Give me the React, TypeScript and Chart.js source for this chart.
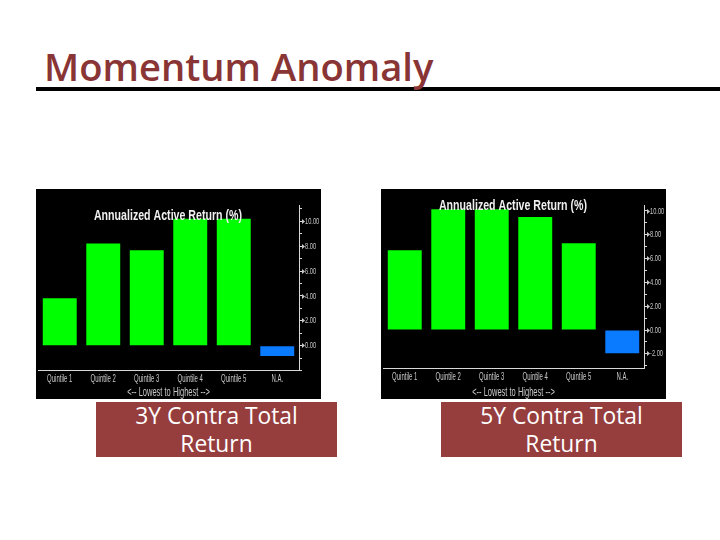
import * as React from 'react';
import Chart from 'chart.js/auto';

const categories = ['Quintile 1', 'Quintile 2', 'Quintile 3', 'Quintile 4', 'Quintile 5', 'N.A.'];
const contra3Y = [3.82, 8.2, 7.67, 10.2, 10.2, -0.83];
const contra5Y = [6.7, 10.14, 10.14, 9.5, 7.28, -1.96];
const barColors = ['#00ff00', '#00ff00', '#00ff00', '#00ff00', '#00ff00', '#0a7bff'];
const chartTitle = 'Annualized Active Return (%)';
const axisTitle = '<-- Lowest to Highest -->';
const sans = '"Liberation Sans", sans-serif';
const slideFont = '"Open Sans", sans-serif';

// the source chart uses a narrow font and none is installed, so squeeze all canvas text
const squeeze = 0.6;
const narrowText = {
  id: 'narrowText',
  beforeDraw: (c) => {
    const ctx = c.ctx;
    if (ctx.squeezed) return;
    ctx.squeezed = true;
    const fillText = ctx.fillText.bind(ctx);
    ctx.fillText = (text, x, y) => {
      ctx.save();
      ctx.translate(x, y);
      ctx.scale(squeeze, 1);
      fillText(text, 0, 0);
      ctx.restore();
    };
  },
};

function QuintileChart({
  values,
  min,
  max,
  lowestLabel,
  titleY,
  axisHeight,
}: {
  values: number[];
  min: number;
  max: number;
  lowestLabel: number;
  titleY: number;
  axisHeight: number;
}) {
  const ref = React.useRef<HTMLCanvasElement>(null);
  React.useEffect(() => {
    const chart = new Chart(ref.current, {
      type: 'bar',
      data: {
        labels: categories,
        datasets: [
          {
            data: values,
            backgroundColor: barColors,
            barPercentage: 0.78,
            categoryPercentage: 1,
          },
        ],
      },
      options: {
        responsive: false,
        animation: false,
        layout: { padding: { left: 2, top: 16, right: 0, bottom: 0 } },
        plugins: { legend: { display: false }, tooltip: { enabled: false } },
        scales: {
          x: {
            grid: { display: false, tickLength: 1 },
            border: { color: '#d8d8d8', width: 1 },
            ticks: { color: '#c8c8c8', font: { family: sans, size: 10 }, padding: 2, maxRotation: 0, autoSkip: false },
            title: {
              display: true,
              text: axisTitle,
              color: '#c8c8c8',
              font: { family: sans, size: 12.5 },
              padding: { top: 0, bottom: -1 },
            },
            afterFit: (scale) => {
              scale.height = axisHeight;
            },
          },
          y: {
            position: 'right',
            min,
            max,
            grid: { display: true, drawOnChartArea: false, drawTicks: true, tickLength: 3, tickColor: '#d8d8d8' },
            border: { color: '#d8d8d8', width: 1 },
            afterBuildTicks: (scale) => {
              scale.ticks = scale.ticks.filter((t) => t.value >= min && t.value <= max);
            },
            ticks: {
              stepSize: 1,
              autoSkip: false,
              includeBounds: false,
              color: '#c8c8c8',
              font: { family: sans, size: 9.5 },
              padding: 0,
              callback: (v) =>
                Number(v) % 2 === 0 && Number(v) >= lowestLabel ? '\u25B8' + Number(v).toFixed(2) : '',
            },
            afterFit: (scale) => {
              scale.width = 22;
            },
          },
        },
      },
      plugins: [
        narrowText,
        {
          id: 'panelBackground',
          beforeDraw: (c) => {
            c.ctx.save();
            c.ctx.fillStyle = '#000000';
            c.ctx.fillRect(0, 0, c.width, c.height);
            c.ctx.restore();
          },
        },
        {
          id: 'overlayTitle',
          afterDraw: (c) => {
            const ctx = c.ctx;
            ctx.save();
            ctx.fillStyle = '#f0f0f0';
            ctx.font = 'bold 15px ' + sans;
            ctx.textAlign = 'center';
            ctx.textBaseline = 'middle';
            ctx.translate(132, titleY);
            ctx.scale(1.18, 1);
            ctx.fillText(chartTitle, 0, 0);
            ctx.restore();
          },
        },
      ],
    });
    return () => chart.destroy();
  }, [values, min, max, lowestLabel, titleY, axisHeight]);
  return <canvas ref={ref} width={285} height={210} style={{ display: 'block' }} />;
}

function Caption({ left, lines }: { left: number; lines: string[] }) {
  return (
    <div
      style={{
        position: 'absolute',
        left,
        top: 402,
        width: 241,
        height: 55,
        background: '#963d3d',
        color: '#ffffff',
        fontFamily: slideFont,
        fontSize: 22.8,
        lineHeight: '28px',
        textAlign: 'center',
      }}
    >
      {lines.map((l) => (
        <div key={l}>{l}</div>
      ))}
    </div>
  );
}

export default function App() {
  return (
    <div style={{ position: 'absolute', left: 0, top: 0, width: 720, height: 540, background: '#fff', overflow: 'hidden' }}>
      <div style={{ position: 'absolute', left: 36, top: 87, width: 684, height: 4, background: '#000' }} />
      <div
        style={{
          position: 'absolute',
          left: 44,
          top: 41,
          fontFamily: slideFont,
          fontWeight: 600,
          fontSize: 38.2,
          lineHeight: '50px',
          color: '#8a3535',
          whiteSpace: 'nowrap',
        }}
      >
        Momentum Anomaly
      </div>
      <div style={{ position: 'absolute', left: 36, top: 189 }}>
        <QuintileChart values={contra3Y} min={-2} max={11.3} lowestLabel={0} titleY={27} axisHeight={28.3} />
      </div>
      <div style={{ position: 'absolute', left: 381, top: 189 }}>
        <QuintileChart values={contra5Y} min={-3.25} max={10.5} lowestLabel={-2} titleY={17} axisHeight={30.3} />
      </div>
      <Caption left={96} lines={['3Y Contra Total', 'Return']} />
      <Caption left={441} lines={['5Y Contra Total', 'Return']} />
    </div>
  );
}
